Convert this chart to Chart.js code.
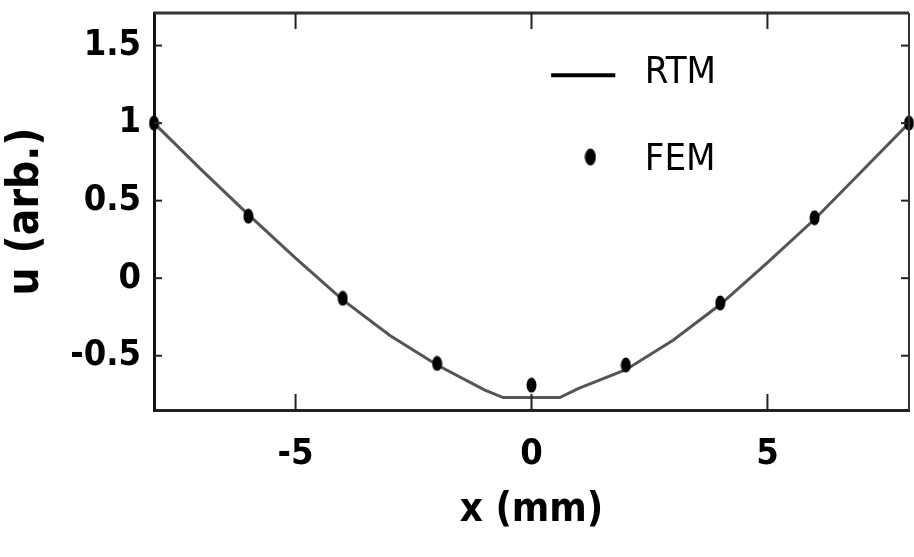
<!DOCTYPE html>
<html>
<head>
<meta charset="utf-8">
<script src="https://cdn.jsdelivr.net/npm/chart.js@4"></script>
<style>
  html, body { margin: 0; padding: 0; background: #fff; }
  #wrap { width: 914px; height: 557px; }
</style>
</head>
<body>
<div id="wrap"><canvas id="chart"></canvas></div>
<script>
// RTM curve
var rtmX = [-8, -7, -6, -5, -4, -3, -2, -1, -0.6, 0, 0.6, 1, 2, 3, 4, 5, 6, 7, 8];
var rtmU = [1.0, 0.70, 0.41, 0.13, -0.14, -0.37, -0.56, -0.72, -0.77, -0.77, -0.77, -0.71, -0.59, -0.40, -0.17, 0.10, 0.38, 0.69, 1.0];

// FEM points
var femX = [-8, -6, -4, -2, 0, 2, 4, 6, 8];
var femU = [1.0, 0.40, -0.13, -0.55, -0.69, -0.56, -0.16, 0.39, 1.0];

var xTicks = [-5, 0, 5];
var xTickLabels = ['-5', '0', '5'];
var yTicks = [-0.5, 0, 0.5, 1, 1.5];
var yTickLabels = ['-0.5', '0', '0.5', '1', '1.5'];

var narrow = "'Liberation Sans Narrow', 'DejaVu Sans Condensed', 'Liberation Sans', sans-serif";

function toPoints(xs, ys) {
    return xs.map(function(x, i) { return { x: x, y: ys[i] }; });
}

// slightly tall black dot, like the scanned markers
function ellipseMarker(w, h) {
    var c = document.createElement('canvas');
    c.width = w; c.height = h;
    var g = c.getContext('2d');
    g.fillStyle = '#000';
    g.beginPath();
    g.ellipse(w / 2, h / 2, w / 2 - 0.5, h / 2 - 0.5, 0, 0, Math.PI * 2);
    g.fill();
    return c;
}

var dot = ellipseMarker(11, 16);
var legendDot = ellipseMarker(12, 18);

// frame, inward ticks and the in-plot legend
var framePlugin = {
    id: 'frame',
    afterDatasetsDraw: function(chart) {
        var ctx = chart.ctx, a = chart.chartArea;
        var xs = chart.scales.x, ys = chart.scales.y;
        function seg(x1, y1, x2, y2) {
            ctx.beginPath(); ctx.moveTo(x1, y1); ctx.lineTo(x2, y2); ctx.stroke();
        }
        ctx.save();
        ctx.strokeStyle = '#333';
        ctx.lineWidth = 3;
        seg(a.left, a.top, a.right, a.top);
        ctx.lineWidth = 2;
        seg(a.right, a.top, a.right, a.bottom);

        ctx.strokeStyle = '#222';
        ctx.lineWidth = 2;
        xTicks.forEach(function(v) {
            var px = xs.getPixelForValue(v);
            seg(px, a.bottom, px, a.bottom - 16);
            seg(px, a.top, px, a.top + 16);
        });
        yTicks.forEach(function(v) {
            var py = ys.getPixelForValue(v);
            seg(a.left, py, a.left + 8, py);
            seg(a.right, py, a.right - 8, py);
        });

        // legend
        var w = a.right - a.left, h = a.bottom - a.top;
        var ds = chart.data.datasets;
        ctx.strokeStyle = '#000';
        ctx.lineWidth = 4;
        var ly = a.top + 0.157 * h;
        seg(a.left + 0.526 * w, ly, a.left + 0.611 * w, ly);
        var dy = a.top + 0.363 * h;
        ctx.drawImage(legendDot, a.left + 0.578 * w - legendDot.width / 2, dy - legendDot.height / 2);

        ctx.fillStyle = '#000';
        ctx.font = '38px ' + narrow;
        ctx.textAlign = 'left';
        ctx.textBaseline = 'middle';
        ctx.fillText(ds[0].label, a.left + 0.650 * w, ly - 2);
        ctx.fillText(ds[1].label, a.left + 0.650 * w, dy + 3);
        ctx.restore();
    }
};

var ctx = document.getElementById('chart').getContext('2d');
var chart = new Chart(ctx, {
    type: 'scatter',
    data: {
        datasets: [{
            label: 'RTM',
            type: 'line',
            data: toPoints(rtmX, rtmU),
            borderColor: '#555',
            borderWidth: 3,
            pointRadius: 0,
            tension: 0,
            fill: false,
            order: 2
        }, {
            label: 'FEM',
            data: toPoints(femX, femU),
            pointStyle: dot,
            backgroundColor: '#000',
            borderColor: '#000',
            clip: false,
            order: 1
        }]
    },
    options: {
        responsive: true,
        maintainAspectRatio: false,
        animation: false,
        layout: { padding: { top: 13, right: 2, left: 0, bottom: 0 } },
        plugins: {
            legend: { display: false },
            tooltip: { enabled: false }
        },
        scales: {
            x: {
                type: 'linear',
                min: -8,
                max: 8,
                afterBuildTicks: function(scale) {
                    scale.ticks = xTicks.map(function(v) { return { value: v }; });
                },
                afterFit: function(scale) {
                    scale.height = 147;
                    scale.paddingLeft = 0;
                    scale.paddingRight = 0;
                },
                grid: { display: true, drawOnChartArea: false, drawTicks: false },
                border: { display: true, color: '#222', width: 3 },
                ticks: {
                    padding: 23,
                    color: '#000',
                    font: { family: narrow, size: 36, weight: 'bold' },
                    callback: function(v) {
                        var i = xTicks.indexOf(v);
                        return i >= 0 ? xTickLabels[i] : '';
                    }
                },
                title: {
                    display: true,
                    text: 'x (mm)',
                    color: '#000',
                    font: { family: narrow, size: 40, weight: 'bold' },
                    padding: { top: 0, bottom: 22 }
                }
            },
            y: {
                type: 'linear',
                min: -0.85,
                max: 1.71,
                afterBuildTicks: function(scale) {
                    scale.ticks = yTicks.map(function(v) { return { value: v }; });
                },
                afterFit: function(scale) {
                    scale.width = 154;
                    scale.paddingTop = 0;
                    scale.paddingBottom = 0;
                },
                grid: { display: true, drawOnChartArea: false, drawTicks: false },
                border: { display: true, color: '#111', width: 3, dash: [3, 2] },
                ticks: {
                    padding: 13,
                    color: '#000',
                    font: { family: narrow, size: 36, weight: 'bold' },
                    callback: function(v) {
                        var i = yTicks.indexOf(v);
                        return i >= 0 ? yTickLabels[i] : '';
                    }
                },
                title: {
                    display: true,
                    text: 'u (arb.)',
                    color: '#000',
                    font: { family: narrow, size: 44, weight: 'bold' },
                    padding: { top: 0, bottom: 0 }
                }
            }
        }
    },
    plugins: [framePlugin]
});
</script>
</body>
</html>
